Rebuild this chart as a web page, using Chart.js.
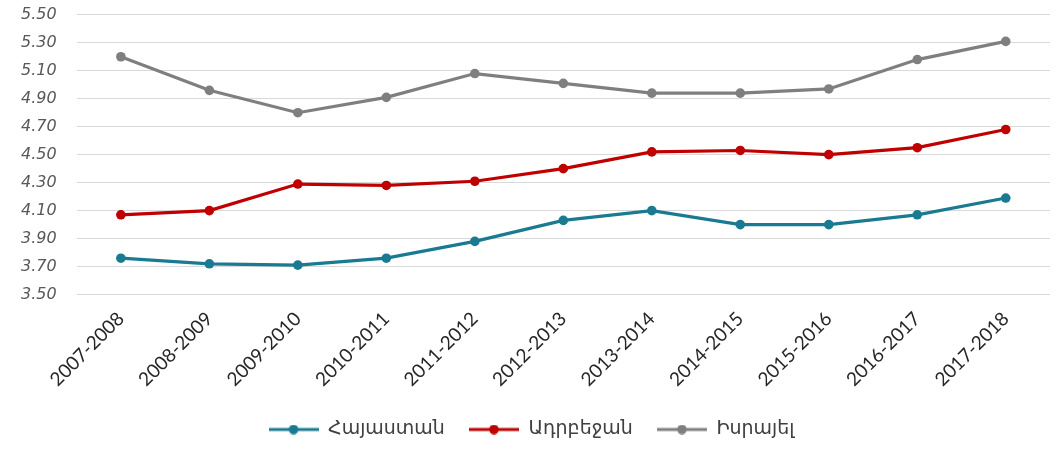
<!DOCTYPE html>
<html>
<head>
<meta charset="utf-8">
<script src="https://cdn.jsdelivr.net/npm/chart.js@4"></script>
<style>
  html, body { margin: 0; padding: 0; background: #fff; }
  #wrap { width: 1063px; height: 449px; }
</style>
</head>
<body>
<div id="wrap"><canvas id="myChart" width="1063" height="449"></canvas></div>
<script>
const labels = ['2007-2008', '2008-2009', '2009-2010', '2010-2011', '2011-2012', '2012-2013',
    '2013-2014', '2014-2015', '2015-2016', '2016-2017', '2017-2018'];

// Հայաստան
const armenia = [3.76, 3.72, 3.71, 3.76, 3.88, 4.03, 4.10, 4.00, 4.00, 4.07, 4.19];
// Ադրբեջան
const azerbaijan = [4.07, 4.10, 4.29, 4.28, 4.31, 4.40, 4.52, 4.53, 4.50, 4.55, 4.68];
// Իսրայել
const israel = [5.20, 4.96, 4.80, 4.91, 5.08, 5.01, 4.94, 4.94, 4.97, 5.18, 5.31];

const names = ['Հայաստան', 'Ադրբեջան', 'Իսրայել'];
const colors = ['#1a7a92', '#c00000', '#7f7f7f'];

const legendIcon = (color) => {
    const c = document.createElement('canvas');
    c.width = 50;
    c.height = 10;
    const g = c.getContext('2d');
    g.strokeStyle = color;
    g.lineWidth = 3.2;
    g.beginPath();
    g.moveTo(0, 5);
    g.lineTo(50, 5);
    g.stroke();
    g.fillStyle = color;
    g.beginPath();
    g.arc(25, 5, 4.8, 0, Math.PI * 2);
    g.fill();
    return c;
};

const makeSet = (i, values) => ({
    label: names[i],
    data: values,
    borderColor: colors[i],
    backgroundColor: colors[i],
    borderWidth: 3.2,
    pointRadius: 4.8,
    pointBorderWidth: 0,
    pointHoverRadius: 4.8,
    pointStyle: 'circle',
    tension: 0,
});

new Chart(document.getElementById('myChart'), {
    type: 'line',
    data: {
        labels: labels,
        datasets: [makeSet(0, armenia), makeSet(1, azerbaijan), makeSet(2, israel)],
    },
    options: {
        responsive: false,
        animation: false,
        layout: { padding: { top: 0, right: 13, left: 13, bottom: 0 } },
        plugins: {
            tooltip: { enabled: false },
            legend: {
                position: 'bottom',
                labels: {
                    usePointStyle: true,
                    pointStyleWidth: 50,
                    color: '#404040',
                    font: { family: "'DejaVu Sans', sans-serif", size: 19 },
                    padding: 24,
                    generateLabels: (chart) =>
                        chart.data.datasets.map((ds, i) => ({
                            text: ds.label,
                            pointStyle: legendIcon(colors[i]),
                            fontColor: '#404040',
                            strokeStyle: colors[i],
                            fillStyle: colors[i],
                            lineWidth: 0,
                            datasetIndex: i,
                        })),
                },
            },
        },
        scales: {
            x: {
                offset: true,
                grid: { display: false },
                border: { display: false },
                ticks: {
                    color: '#262626',
                    font: { family: "Lato, sans-serif", size: 19 },
                    maxRotation: 45,
                    minRotation: 45,
                    autoSkip: false,
                    padding: 5,
                },
            },
            y: {
                min: 3.5,
                max: 5.5,
                grid: { color: '#d9d9d9', lineWidth: 1, drawTicks: true, tickLength: 12, tickColor: '#fff' },
                border: { display: false },
                ticks: {
                    stepSize: 0.2,
                    color: '#595959',
                    font: { family: "'DejaVu Sans', sans-serif", size: 16, style: 'italic', lineHeight: 0.85 },
                    padding: 8,
                    callback: (v) => v.toFixed(2),
                },
            },
        },
    },
});
</script>
</body>
</html>
